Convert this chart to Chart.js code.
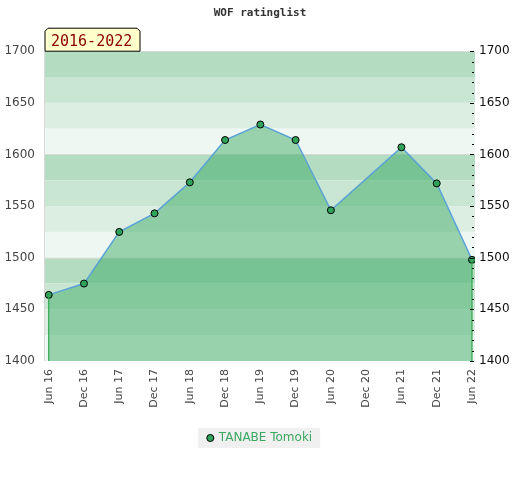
<!DOCTYPE html>
<html>
<head>
<meta charset="utf-8">
<script src="https://cdn.jsdelivr.net/npm/chart.js@4"></script>
<style>
  html, body { margin: 0; padding: 0; background: #fff; }
  #wrap { width: 520px; height: 480px; }
</style>
</head>
<body>
<div id="wrap"><canvas id="ratingChart" width="520" height="480"></canvas></div>
<script>
// data
const periods = ['Jun 16', 'Dec 16', 'Jun 17', 'Dec 17', 'Jun 18', 'Dec 18', 'Jun 19',
                 'Dec 19', 'Jun 20', 'Dec 20', 'Jun 21', 'Dec 21', 'Jun 22'];
const ratings = [1464, 1475, 1525, 1543, 1573, 1614, 1629, 1614, 1546, null, 1607, 1572, 1498];
const playerName = 'TANABE Tomoki';
const rangeLabel = '2016-2022';
const yMin = 1400, yMax = 1700;

const bandColors = ['#b3dcc0', '#c8e6d2', '#dcede2', '#eff7f2'];

// striped background, grey lines every 100, left border
const bandsPlugin = {
    id: 'bands',
    beforeDraw(chart) {
        const ctx = chart.ctx, a = chart.chartArea, y = chart.scales.y;
        ctx.save();
        let i = 0;
        for (let v = yMax; v > yMin; v -= 25) {
            const top = y.getPixelForValue(v), bot = y.getPixelForValue(v - 25);
            ctx.fillStyle = bandColors[i % 4];
            ctx.fillRect(a.left, top, a.right - a.left, bot - top);
            i++;
        }
        ctx.strokeStyle = '#d8d8d8';
        ctx.lineWidth = 1;
        for (let v = yMax; v > yMin; v -= 100) {
            const py = Math.round(y.getPixelForValue(v)) + 0.5;
            ctx.beginPath();
            ctx.moveTo(a.left, py);
            ctx.lineTo(a.right, py);
            ctx.stroke();
        }
        ctx.beginPath();
        ctx.moveTo(a.left - 0.5, a.top);
        ctx.lineTo(a.left - 0.5, a.bottom);
        ctx.stroke();
        ctx.restore();
    }
};

// green edges of the area, right tick marks, range label box
const extrasPlugin = {
    id: 'extras',
    afterDatasetsDraw(chart) {
        const ctx = chart.ctx, a = chart.chartArea, x = chart.scales.x, y = chart.scales.y;
        ctx.save();
        // vertical edges at first and last point
        const firstIdx = ratings.findIndex(v => v !== null);
        let lastIdx = ratings.length - 1;
        while (ratings[lastIdx] === null) lastIdx--;
        ctx.strokeStyle = '#2fa84f';
        ctx.lineWidth = 1.2;
        [firstIdx, lastIdx].forEach(i => {
            const px = x.getPixelForValue(i);
            ctx.beginPath();
            ctx.moveTo(px, y.getPixelForValue(ratings[i]));
            ctx.lineTo(px, a.bottom);
            ctx.stroke();
        });
        // minor / major ticks inside right edge
        ctx.strokeStyle = '#000';
        ctx.lineWidth = 1;
        for (let v = yMin; v <= yMax; v += 10) {
            const py = Math.round(y.getPixelForValue(v)) + 0.5;
            const len = v % 50 === 0 ? 4 : 2;
            ctx.beginPath();
            ctx.moveTo(a.right - 1 - len, py);
            ctx.lineTo(a.right - 1, py);
            ctx.stroke();
        }
        ctx.restore();
    },
    afterDraw(chart) {
        const ctx = chart.ctx, a = chart.chartArea;
        ctx.save();
        const l = a.left, r = a.left + 95, t = a.top - 23, b = a.top, c = 3;
        ctx.beginPath();
        ctx.moveTo(l, b);
        ctx.lineTo(l, t + c);
        ctx.lineTo(l + c, t);
        ctx.lineTo(r - c, t);
        ctx.lineTo(r, t + c);
        ctx.lineTo(r, b);
        ctx.closePath();
        ctx.fillStyle = '#ffffcc';
        ctx.fill();
        ctx.strokeStyle = '#000';
        ctx.lineWidth = 1;
        ctx.stroke();
        ctx.fillStyle = '#8b0000';
        ctx.font = '15px "DejaVu Sans Mono"';
        ctx.textBaseline = 'alphabetic';
        ctx.fillText(rangeLabel, l + 6, b - 5);
        ctx.restore();
    }
};

// grey box behind the legend
const legendBoxPlugin = {
    id: 'legendBox',
    beforeDraw(chart) {
        const lg = chart.legend;
        if (!lg || !lg.legendHitBoxes.length) return;
        const hb = lg.legendHitBoxes[0];
        const ctx = chart.ctx;
        ctx.save();
        ctx.fillStyle = '#f0f0f0';
        ctx.fillRect(hb.left - 10, hb.top + hb.height / 2 - 10, hb.width + 18, 20);
        ctx.restore();
    }
};

const points = ratings.map((v, i) => ({ x: i, y: v }));

const ctx = document.getElementById('ratingChart').getContext('2d');
const ratingChart = new Chart(ctx, {
    type: 'line',
    data: {
        datasets: [{
            label: playerName,
            data: points,
            borderColor: '#5aa2d6',
            borderWidth: 1.5,
            backgroundColor: 'rgba(53, 168, 96, 0.47)',
            fill: 'start',
            spanGaps: true,
            tension: 0,
            pointRadius: 3.5,
            pointBackgroundColor: '#2fa35a',
            pointBorderColor: '#000',
            pointBorderWidth: 1
        }]
    },
    plugins: [bandsPlugin, extrasPlugin, legendBoxPlugin],
    options: {
        responsive: false,
        animation: false,
        layout: { padding: { left: 0, right: 0, top: 0, bottom: 26 } },
        plugins: {
            title: {
                display: true,
                text: 'WOF ratinglist',
                color: '#333',
                font: { family: '"DejaVu Sans Mono"', size: 11, weight: 'bold' },
                padding: { top: 7, bottom: 31 }
            },
            legend: {
                position: 'bottom',
                labels: {
                    usePointStyle: true,
                    pointStyle: 'circle',
                    boxWidth: 5,
                    boxHeight: 5,
                    color: '#3aa860',
                    font: { family: '"DejaVu Sans"', size: 12 },
                    padding: 8
                }
            },
            tooltip: { enabled: false }
        },
        scales: {
            x: {
                type: 'linear',
                min: -0.105,
                max: 12.085,
                afterBuildTicks(scale) {
                    scale.ticks = periods.map((p, i) => ({ value: i }));
                },
                afterFit(scale) { scale.height = 63; },
                grid: { display: false, drawTicks: false },
                border: { display: false },
                ticks: {
                    autoSkip: false,
                    minRotation: 90,
                    maxRotation: 90,
                    padding: 8,
                    color: '#444',
                    font: { family: '"DejaVu Sans"', size: 11 },
                    callback: (v) => periods[v]
                }
            },
            y: {
                position: 'left',
                min: yMin,
                max: yMax,
                afterFit(scale) { scale.width = 45; },
                grid: { display: false, drawTicks: false },
                border: { display: false },
                ticks: {
                    stepSize: 50,
                    padding: 10,
                    color: '#444',
                    font: { family: '"DejaVu Sans"', size: 12 },
                    callback: (v) => String(v)
                }
            },
            y2: {
                position: 'right',
                min: yMin,
                max: yMax,
                afterFit(scale) { scale.width = 45; },
                grid: { display: false, drawTicks: false },
                border: { display: false },
                ticks: {
                    stepSize: 50,
                    padding: 4,
                    color: '#111',
                    font: { family: '"DejaVu Sans"', size: 12 },
                    callback: (v) => String(v)
                }
            }
        }
    }
});
</script>
</body>
</html>
